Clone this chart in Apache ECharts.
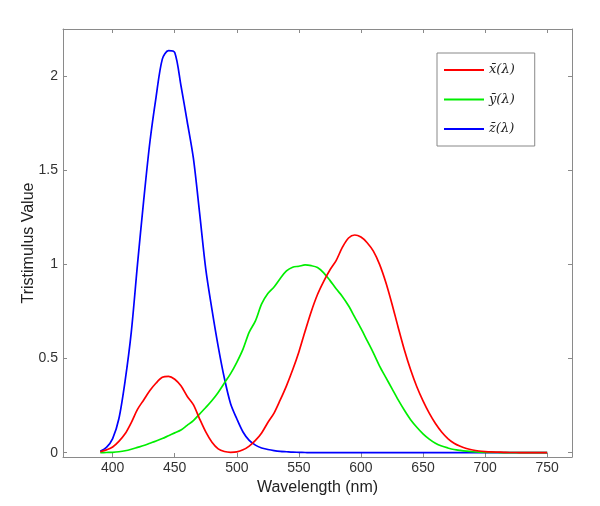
<!DOCTYPE html>
<html>
<head>
<meta charset="utf-8">
<script src="https://cdn.jsdelivr.net/npm/echarts@6/dist/echarts.min.js"></script>
<style>html,body{margin:0;padding:0;background:#fff}#c{width:600px;height:506px}</style>
</head>
<body>
<div id="c"></div>
<script>
var wavelengths = [390,395,400,405,410,415,420,425,430,435,440,445,450,455,460,465,470,475,480,485,490,495,500,505,510,515,520,525,530,535,540,545,550,555,560,565,570,575,580,585,590,595,600,605,610,615,620,625,630,635,640,645,650,655,660,665,670,675,680,685,690,695,700,705,710,715,720,725,730,735,740,745,750];
var xbar = [0.005,0.015,0.03,0.06,0.10,0.16,0.23,0.28,0.33,0.37,0.40,0.405,0.39,0.355,0.30,0.255,0.18,0.11,0.055,0.02,0.006,0.002,0.004,0.015,0.035,0.065,0.105,0.16,0.21,0.28,0.355,0.44,0.535,0.645,0.75,0.84,0.91,0.97,1.02,1.09,1.14,1.156,1.145,1.115,1.07,1.0,0.905,0.79,0.665,0.545,0.44,0.35,0.275,0.21,0.155,0.11,0.075,0.05,0.034,0.022,0.014,0.009,0.006,0.004,0.003,0.002,0.001,0.001,0,0,0,0,0];
var ybar = [0.0,0.001,0.002,0.005,0.01,0.018,0.028,0.038,0.05,0.062,0.075,0.09,0.105,0.12,0.145,0.17,0.205,0.24,0.277,0.32,0.37,0.42,0.48,0.55,0.64,0.70,0.79,0.845,0.88,0.925,0.965,0.985,0.99,0.997,0.993,0.983,0.955,0.915,0.87,0.83,0.78,0.72,0.66,0.595,0.53,0.46,0.40,0.34,0.28,0.225,0.175,0.135,0.10,0.072,0.05,0.035,0.025,0.017,0.012,0.008,0.005,0.003,0.002,0.0015,0.001,0,0,0,0,0,0,0,0];
var zbar = [0.007,0.028,0.075,0.18,0.38,0.64,1.0,1.34,1.65,1.89,2.09,2.135,2.125,1.95,1.76,1.565,1.275,0.975,0.76,0.565,0.395,0.26,0.18,0.11,0.065,0.04,0.025,0.017,0.011,0.007,0.005,0.003,0.002,0.001,0,0,0,0,0,0,0,0,0,0,0,0,0,0,0,0,0,0,0,0,0,0,0,0,0,0,0,0,0,0,0,0,0,0,0,0,0,0,0];
var xTicks = [400,450,500,550,600,650,700,750];
var yTicks = [0,0.5,1,1.5,2];
var seriesNames = ['x\u0304(\u03bb)','y\u0304(\u03bb)','z\u0304(\u03bb)'];

function pairs(vals){ return wavelengths.map(function(w,i){ return [w, vals[i]]; }); }

var axisColor = '#8a8a8a';
var labelColor = '#333333';
var font = 'Liberation Sans, Arial, Helvetica, sans-serif';

function xAxisDef(pos, showLabel){
  return {
    type:'value', position:pos, min:360, max:770,
    axisLine:{show:true, onZero:false, lineStyle:{color:axisColor, width:1}},
    axisTick:{show:true, inside:true, length:4, customValues:xTicks, lineStyle:{color:axisColor}},
    axisLabel:{show:showLabel, customValues:xTicks, color:labelColor, fontSize:14, fontFamily:font, margin:4},
    splitLine:{show:false},
    name: showLabel ? 'Wavelength (nm)' : '',
    nameLocation:'middle', nameGap:21,
    nameTextStyle:{color:'#222', fontSize:16, fontFamily:font}
  };
}
function yAxisDef(pos, showLabel){
  return {
    type:'value', position:pos, min:-0.023, max:2.25,
    axisLine:{show:true, onZero:false, lineStyle:{color:axisColor, width:1}},
    axisTick:{show:true, inside:true, length:4, customValues:yTicks, lineStyle:{color:axisColor}},
    axisLabel:{show:showLabel, customValues:yTicks, color:labelColor, fontSize:14, fontFamily:font, margin:5},
    splitLine:{show:false},
    name: showLabel ? 'Tristimulus Value' : '',
    nameLocation:'middle', nameGap:26, nameMoveOverlap:false,
    nameTextStyle:{color:'#222', fontSize:16, fontFamily:font}
  };
}

var chart = echarts.init(document.getElementById('c'), null, {renderer:'canvas'});
var colors = ['#ff0000','#00ee00','#0000ff'];
var vals = [xbar, ybar, zbar];
chart.setOption({
  animation:false,
  backgroundColor:'#ffffff',
  grid:{left:63, top:29, width:509, height:428, containLabel:false},
  xAxis:[xAxisDef('bottom', true), xAxisDef('top', false)],
  yAxis:[yAxisDef('left', true), yAxisDef('right', false)],
  legend:{
    orient:'vertical', left:437, top:53,
    data:seriesNames,
    icon:'rect',
    itemWidth:40, itemHeight:2, itemGap:15.5,
    padding:[10,20,10,7],
    borderColor:'#888', borderWidth:1, backgroundColor:'#fff',
    textStyle:{fontFamily:'DejaVu Serif, Liberation Serif, serif', fontStyle:'italic', fontSize:13, lineHeight:14, color:'#222'}
  },
  series: seriesNames.map(function(n,i){
    return {
      name:n, type:'line', xAxisIndex:0, yAxisIndex:0,
      data:pairs(vals[i]), symbol:'none', smooth:0.3,
      lineStyle:{color:colors[i], width:1.7}, itemStyle:{color:colors[i]},
      z: 3 - i
    };
  })
});
</script>
</body>
</html>
